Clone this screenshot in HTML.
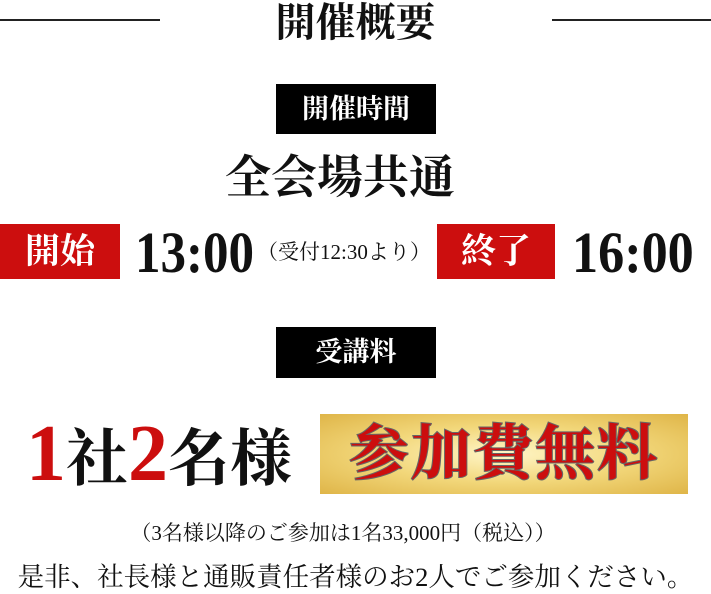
<!DOCTYPE html>
<html><head><meta charset="utf-8"><style>
body{margin:0;width:711px;height:593px;background:#fff;position:relative;overflow:hidden;font-family:"Liberation Serif","Noto Serif CJK SC",serif;color:#111}
.a{position:absolute;white-space:nowrap}
.line{position:absolute;height:2px;background:#222;top:19px}
.blk{position:absolute;background:#000;color:#fff;text-align:center;font-weight:bold}
.red{position:absolute;background:#cc0e0e;color:#fff;text-align:center;font-weight:bold}
</style></head><body>
<div class="line" style="left:0;width:160px"></div>
<div class="line" style="left:552px;width:159px"></div>
<div class="a" style="left:0;width:711px;text-align:center;top:0;font-size:40px;line-height:46px;font-weight:bold">開催概要</div>
<div class="blk" style="left:276px;top:84px;width:160px;height:50px;line-height:50px;font-size:27px">開催時間</div>
<div class="a" style="left:0;width:680px;text-align:center;top:150px;font-size:46px;line-height:56px;font-weight:bold">全会場共通</div>
<div class="red" style="left:0;top:224px;width:120px;height:55px;line-height:55px;font-size:35px">開始</div>
<div class="a" style="left:135px;top:220px;font-size:58px;line-height:66px;font-weight:bold;transform:scaleX(0.88);transform-origin:left">13:00</div>
<div class="a" style="left:257px;top:237px;font-size:21px;line-height:30px">（受付12:30より）</div>
<div class="red" style="left:437px;top:224px;width:118px;height:55px;line-height:55px;font-size:35px">終了</div>
<div class="a" style="left:572px;top:220px;font-size:58px;line-height:66px;font-weight:bold;transform:scaleX(0.9);transform-origin:left">16:00</div>
<div class="blk" style="left:276px;top:327px;width:160px;height:51px;line-height:51px;font-size:27px">受講料</div>
<div class="a" style="left:26px;top:412px;line-height:84px;font-weight:bold"><span style="color:#cc0e0e;font-size:80px">1</span><span style="font-size:62px">社</span><span style="color:#cc0e0e;font-size:80px">2</span><span style="font-size:62px">名様</span></div>
<div class="a" style="left:320px;top:414px;width:368px;height:80px;background:radial-gradient(ellipse at center,#fff6c8 0%,#f2d77a 50%,#dfb548 100%);text-align:center;line-height:80px;font-size:60px;font-weight:bold;color:#cc0e0e;-webkit-text-stroke:2px #666;paint-order:stroke fill;letter-spacing:2px">参加費無料</div>
<div class="a" style="left:0;width:686px;text-align:center;top:518px;font-size:21px;line-height:30px">（3名様以降のご参加は1名33,000円（税込））</div>
<div class="a" style="left:0;width:711px;text-align:center;top:560px;font-size:26.5px;line-height:34px">是非、社長様と通販責任者様のお2人でご参加ください。</div>
</body></html>
